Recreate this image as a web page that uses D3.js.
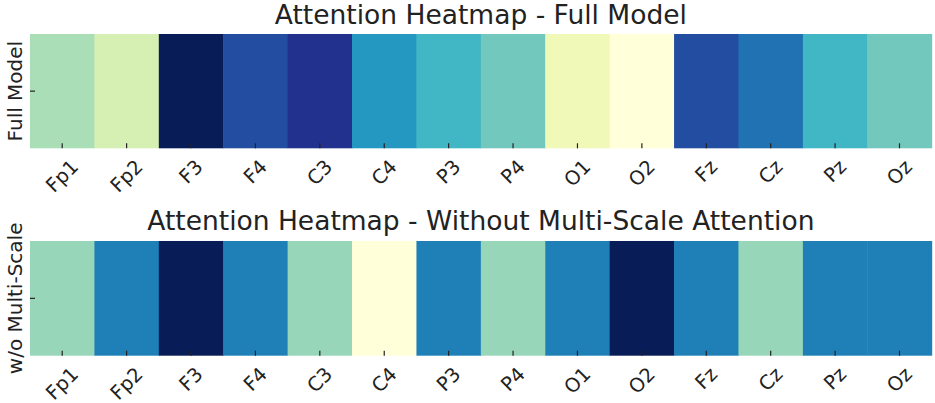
<!DOCTYPE html>
<html>
<head>
<meta charset="utf-8">
<script src="https://cdn.jsdelivr.net/npm/d3@7"></script>
<style>
  html, body { margin: 0; padding: 0; background: #fff; }
  text { font-family: "DejaVu Sans", sans-serif; fill: #222; }
</style>
</head>
<body>
<svg id="chart" width="935" height="403"></svg>
<script>
// ---- data ----
const channels = ["Fp1","Fp2","F3","F4","C3","C4","P3","P4","O1","O2","Fz","Cz","Pz","Oz"];
const fullModel = [0.30, 0.20, 1.00, 0.80, 0.89, 0.60, 0.50, 0.40, 0.10, 0.00, 0.80, 0.70, 0.50, 0.40];
const withoutMultiScale = [0.333, 0.667, 1.00, 0.667, 0.333, 0.00, 0.667, 0.333, 0.667, 1.00, 0.667, 0.333, 0.667, 0.667];
const titles = ["Attention Heatmap - Full Model", "Attention Heatmap - Without Multi-Scale Attention"];
const rowLabels = ["Full Model", "w/o Multi-Scale"];
const ylgnbu = ["#ffffd9","#edf8b1","#c7e9b4","#7fcdbb","#41b6c4","#1d91c0","#225ea8","#253494","#081d58"];

// ---- layout ----
const svg = d3.select("#chart");
const left = 30, right = 931.7;
const panels = [
  { values: fullModel, title: titles[0], label: rowLabels[0], top: 34, bottom: 148.3, titleY: 23.5 },
  { values: withoutMultiScale, title: titles[1], label: rowLabels[1], top: 241, bottom: 355.7, titleY: 230 }
];

const color = d3.scaleLinear()
  .domain(d3.range(ylgnbu.length).map(i => i / (ylgnbu.length - 1)))
  .range(ylgnbu)
  .interpolate(d3.interpolateRgb)
  .clamp(true);

const x = d3.scaleBand().domain(channels).range([left, right]).padding(0);

panels.forEach(p => {
  const g = svg.append("g");
  const y = d3.scaleBand().domain([p.label]).range([p.top, p.bottom]).padding(0);

  g.selectAll("rect.cell")
    .data(channels.map((c, i) => ({ c, v: p.values[i] })))
    .enter().append("rect")
    .attr("class", "cell")
    .attr("x", d => x(d.c))
    .attr("y", y(p.label))
    .attr("width", x.bandwidth() + 0.5)
    .attr("height", y.bandwidth())
    .attr("fill", d => color(d.v));

  // x ticks (inward)
  g.selectAll("line.xt")
    .data(channels).enter().append("line")
    .attr("x1", d => x(d) + x.bandwidth() / 2)
    .attr("x2", d => x(d) + x.bandwidth() / 2)
    .attr("y1", p.bottom)
    .attr("y2", p.bottom - 5)
    .attr("stroke", "#222").attr("stroke-width", 1.2);

  // y tick (inward)
  g.append("line")
    .attr("x1", left).attr("x2", left + 5)
    .attr("y1", y(p.label) + y.bandwidth() / 2)
    .attr("y2", y(p.label) + y.bandwidth() / 2)
    .attr("stroke", "#222").attr("stroke-width", 1.2);

  // x tick labels rotated 45 deg, centered under tick, top aligned
  channels.forEach(c => {
    const lg = g.append("g");
    lg.append("text")
      .attr("text-anchor", "middle")
      .attr("dominant-baseline", "middle")
      .attr("font-size", "19.5px")
      .attr("transform", "rotate(-45)")
      .text(c);
    const bb = lg.node().getBBox();
    const cx = x(c) + x.bandwidth() / 2;
    const topY = p.bottom + 7;
    lg.attr("transform", `translate(${cx - (bb.x + bb.width / 2)},${topY - bb.y})`);
  });

  // y label
  g.append("text")
    .attr("transform", `translate(22,${y(p.label) + y.bandwidth() / 2}) rotate(-90)`)
    .attr("text-anchor", "middle")
    .attr("font-size", "20px")
    .text(p.label);

  // title
  g.append("text")
    .attr("x", (left + right) / 2)
    .attr("y", p.titleY)
    .attr("text-anchor", "middle")
    .attr("font-size", "26.5px")
    .text(p.title);
});
</script>
</body>
</html>
